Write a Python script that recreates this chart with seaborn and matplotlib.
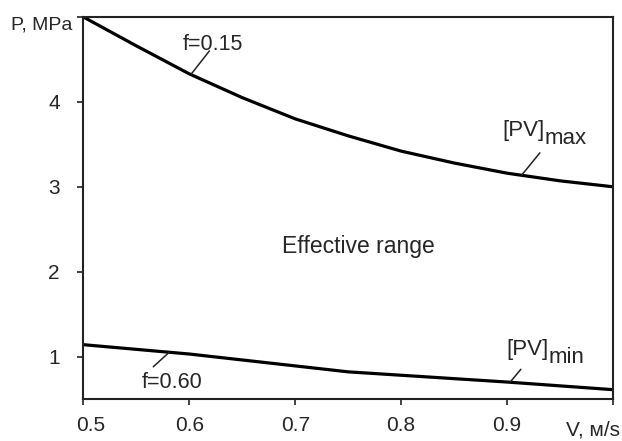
import numpy as np
import pandas as pd
import matplotlib
matplotlib.use("Agg")
import matplotlib.pyplot as plt
import matplotlib.transforms as mtransforms
import seaborn as sns

# Data
v_max = [0.50, 0.55, 0.60, 0.65, 0.70, 0.75, 0.80, 0.85, 0.90, 0.95, 1.00]
p_max = [5.00, 4.66, 4.33, 4.05, 3.80, 3.60, 3.42, 3.28, 3.16, 3.07, 3.00]
v_min = [0.50, 0.60, 0.70, 0.75, 0.80, 0.90, 1.00]
p_min = [1.14, 1.03, 0.89, 0.82, 0.78, 0.70, 0.61]
x_ticks = [0.5, 0.6, 0.7, 0.8, 0.9, 1.0]
x_tick_labels = ["0.5", "0.6", "0.7", "0.8", "0.9", ""]
y_ticks = [1, 2, 3, 4, 5]
y_tick_labels = ["1", "2", "3", "4", ""]

sns.set_theme(style="white")
plt.rcParams["font.family"] = ["Liberation Sans", "DejaVu Sans"]

fig = plt.figure(figsize=(6.22, 4.41), dpi=100)
ax = fig.add_axes([0.134, 0.0952, 0.9855 - 0.134, 0.9615 - 0.0952])

df_max = pd.DataFrame({"V": v_max, "P": p_max})
df_min = pd.DataFrame({"V": v_min, "P": p_min})
sns.lineplot(data=df_max, x="V", y="P", ax=ax, color="black", linewidth=2.3)
sns.lineplot(data=df_min, x="V", y="P", ax=ax, color="black", linewidth=2.3)

ax.set_xlim(0.5, 1.0)
ax.set_ylim(0.5, 5.0)
ax.set_xticks(x_ticks)
ax.set_xticklabels(x_tick_labels)
ax.set_yticks(y_ticks)
ax.set_yticklabels(y_tick_labels)
ax.set_xlabel("")
ax.set_ylabel("")

for s in ax.spines.values():
    s.set_color("#222222")
    s.set_linewidth(1.5)
    s.set_visible(True)

ax.tick_params(axis="x", direction="out", length=4, width=1.2, color="#222222",
               labelsize=15, pad=8.5, bottom=True)
ax.tick_params(axis="y", direction="out", length=4, width=1.2, color="#222222",
               labelsize=15, pad=13, left=True)

# the first x tick label sits a little to the right in the reference
lbl0 = ax.get_xticklabels()[0]
lbl0.set_transform(lbl0.get_transform() +
                   mtransforms.ScaledTranslation(7 / 100, 0, fig.dpi_scale_trans))

# Axis names
ax.text(-0.02, 1.0, "P, MPa", transform=ax.transAxes, ha="right", va="top",
        fontsize=14)
fig.text(0.997, 1 - 435 / 441, "V, м/s", ha="right", va="baseline", fontsize=15)

# Annotations
ax.text(0.688, 2.30, "Effective range", ha="left", va="center", fontsize=16.5)
ax.text(0.622, 4.68, "f=0.15", ha="center", va="center", fontsize=15.5)
ax.text(0.584, 0.70, "f=0.60", ha="center", va="center", fontsize=15.5)

ax.text(0.9357, 3.60, "[PV]", ha="right", va="baseline", fontsize=16)
ax.text(0.9357, 3.50, "max", ha="left", va="baseline", fontsize=16)
ax.text(0.9395, 1.02, "[PV]", ha="right", va="baseline", fontsize=16)
ax.text(0.9395, 0.93, "min", ha="left", va="baseline", fontsize=16)

# Leader lines
lw = 1.1
ax.plot([0.602, 0.619], [4.33, 4.60], color="#222222", lw=lw)
ax.plot([0.581, 0.566], [1.05, 0.88], color="#222222", lw=lw)
ax.plot([0.914, 0.931], [3.14, 3.40], color="#222222", lw=lw)
ax.plot([0.903, 0.913], [0.70, 0.85], color="#222222", lw=lw)

fig.savefig("out.png", dpi=100)
